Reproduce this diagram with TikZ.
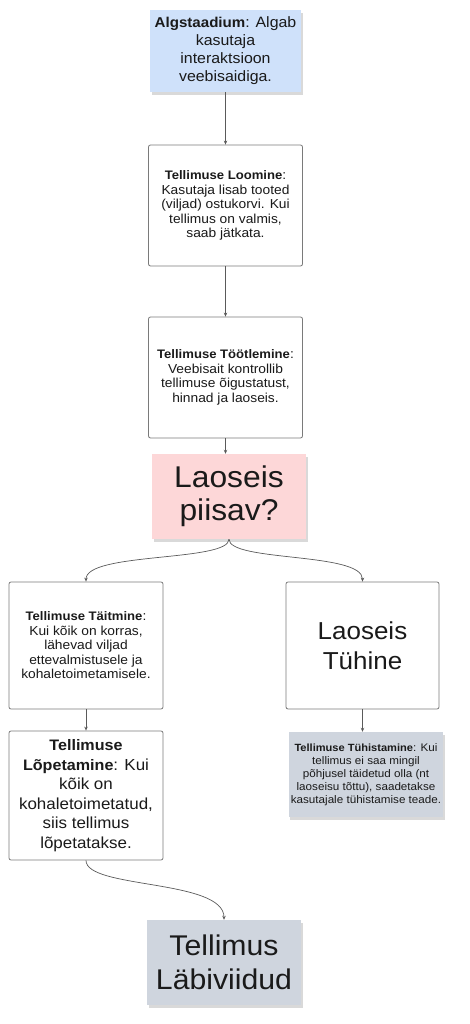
\documentclass[tikz,border=0pt]{standalone}
\usepackage{fontspec}
\setmainfont{Liberation Sans}[FakeStretch=1.06, BoldFeatures={Scale=0.95}]
\usepackage{xcolor}
\usetikzlibrary{arrows.meta, shadows}
\definecolor{noteblue}{HTML}{CFE1FA}
\definecolor{notepink}{HTML}{FDD7D8}
\definecolor{notegray}{HTML}{CFD5DE}
\definecolor{boxgray}{HTML}{7A7A7A}
\definecolor{linegray}{HTML}{5A5A5A}
\definecolor{inkblack}{HTML}{1A1A1A}

\begin{document}
\begin{tikzpicture}[x=1pt, y=1pt,
  note/.style={minimum width=154pt, minimum height=85pt, inner sep=2pt,
    align=center, text=inkblack,
    drop shadow={shadow xshift=1.5pt, shadow yshift=-3.5pt, fill=black, opacity=0.15}},
  stepbox/.style={draw=boxgray, line width=0.8pt, rounded corners=2pt, fill=white,
    minimum width=154pt, minimum height=121pt, inner sep=2pt, align=center, text=inkblack,
    font=\fontsize{13}{14.5}\selectfont},
  flow/.style={draw=linegray, line width=0.7pt, -{Stealth[length=4pt, width=3.5pt]}}]

  % Page frame (469 x 1024)
  \useasboundingbox (0,0) rectangle (469,1024);

  % --- Main column ---
  \node[note, fill=noteblue, minimum width=151pt, minimum height=82pt,
    font=\fontsize{15}{18}\selectfont] (start) at (225.5,973)
    {\textbf{Algstaadium}: Algab\\kasutaja\\interaktsioon\\veebisaidiga.};

  \node[stepbox] (create) at (225.5,818.5)
    {\textbf{Tellimuse Loomine}:\\Kasutaja lisab tooted\\(viljad) ostukorvi. Kui\\tellimus on valmis,\\saab jätkata.};

  \node[stepbox] (process) at (225.5,646.5)
    {\textbf{Tellimuse Töötlemine}:\\Veebisait kontrollib\\tellimuse õigustatust,\\hinnad ja laoseis.};

  % Decision
  \node[note, fill=notepink, font=\fontsize{30}{33}\selectfont] (stock) at (229,527.5)
    {Laoseis\\piisav?};

  % --- Left branch ---
  \node[stepbox, minimum height=127pt] (fulfil) at (86,378.5)
    {\textbf{Tellimuse Täitmine}:\\Kui kõik on korras,\\lähevad viljad\\ettevalmistusele ja\\kohaletoimetamisele.};

  \node[stepbox, minimum height=129pt, font=\fontsize{16}{19.5}\selectfont] (finish) at (86,228.5)
    {\textbf{Tellimuse}\\\textbf{Lõpetamine}: Kui\\kõik on\\kohaletoimetatud,\\siis tellimus\\lõpetatakse.};

  \node[note, fill=notegray, font=\fontsize{28.5}{34}\selectfont] (done) at (224,61.5)
    {Tellimus\\Läbiviidud};

  % --- Right branch ---
  \node[stepbox, minimum width=153pt, minimum height=127pt,
    font=\fontsize{24.5}{30}\selectfont] (empty) at (362.5,378.5)
    {Laoseis\\Tühine};

  \node[note, fill=notegray, font=\fontsize{11}{13}\selectfont] (cancel) at (366,249.5)
    {\textbf{Tellimuse Tühistamine}: Kui\\tellimus ei saa mingil\\põhjusel täidetud olla (nt\\laoseisu tõttu), saadetakse\\kasutajale tühistamise teade.};

  % Connectors
  \draw[flow] (start.south) -- (create.north);
  \draw[flow] (create.south) -- (process.north);
  \draw[flow] (process.south) -- (process.south |- stock.north);
  \draw[flow] (stock.south) .. controls (229,462) and (86,472) .. (fulfil.north);
  \draw[flow] (stock.south) .. controls (229,462) and (362.5,472) .. (empty.north);
  \draw[flow] (fulfil.south) -- (finish.north);
  \draw[flow] (empty.south) -- (empty.south |- cancel.north);
  \draw[flow] (finish.south) .. controls (86,135) and (224,145) .. (done.north);

\end{tikzpicture}
\end{document}
